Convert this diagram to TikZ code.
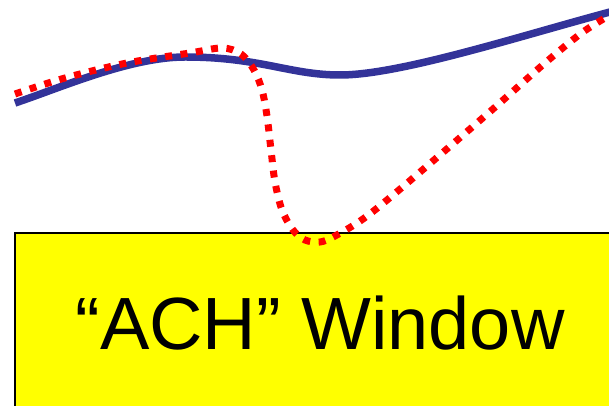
\documentclass[tikz,border=0pt]{standalone}
\usepackage{fontspec}
\setmainfont{Liberation Sans}
\definecolor{curveblue}{RGB}{51,51,153}
\definecolor{winyellow}{RGB}{255,255,0}
\tikzset{
  bluecurve/.style={draw=curveblue, line width=7.5pt, line cap=butt},
  reddots/.style={draw=red, line width=7pt, dash pattern=on 7pt off 8.5pt},
  winbox/.style={fill=winyellow, draw=black, line width=2pt},
  wintext/.style={font=\fontsize{74}{80}\selectfont, text=black, inner sep=0pt}
}
\begin{document}
\begin{tikzpicture}[x=1pt,y=1pt]
\useasboundingbox (0,0) rectangle (609,406);
\clip (0,0) rectangle (609,406);
\fill[white] (0,0) rectangle (609,406);
\path[winbox] (15,-5) rectangle (620,173);
\node[wintext, anchor=base] (label) at (320,56) {“ACH” Window};
\coordinate (b0) at (15,303);
\coordinate (b1) at (185,349);
\coordinate (b2) at (340,331);
\coordinate (b3) at (610,394);
\path[bluecurve] (b0) .. controls (60,318) and (130,349) .. (b1)
  .. controls (260,349) and (290,331) .. (b2)
  .. controls (400,331) and (520,370) .. (b3);
\path[reddots] plot[smooth, tension=0.55] coordinates {(15,312) (65,328) (127,343) (190,353) (222,358) (241,352) (254,336) (262,316) (267,290) (271,256) (275,224) (282,196) (293,176) (305,166) (320,164) (335,170) (363,187) (399,216) (485,290) (545,343) (583,374) (612,392)};
\end{tikzpicture}
\end{document}
